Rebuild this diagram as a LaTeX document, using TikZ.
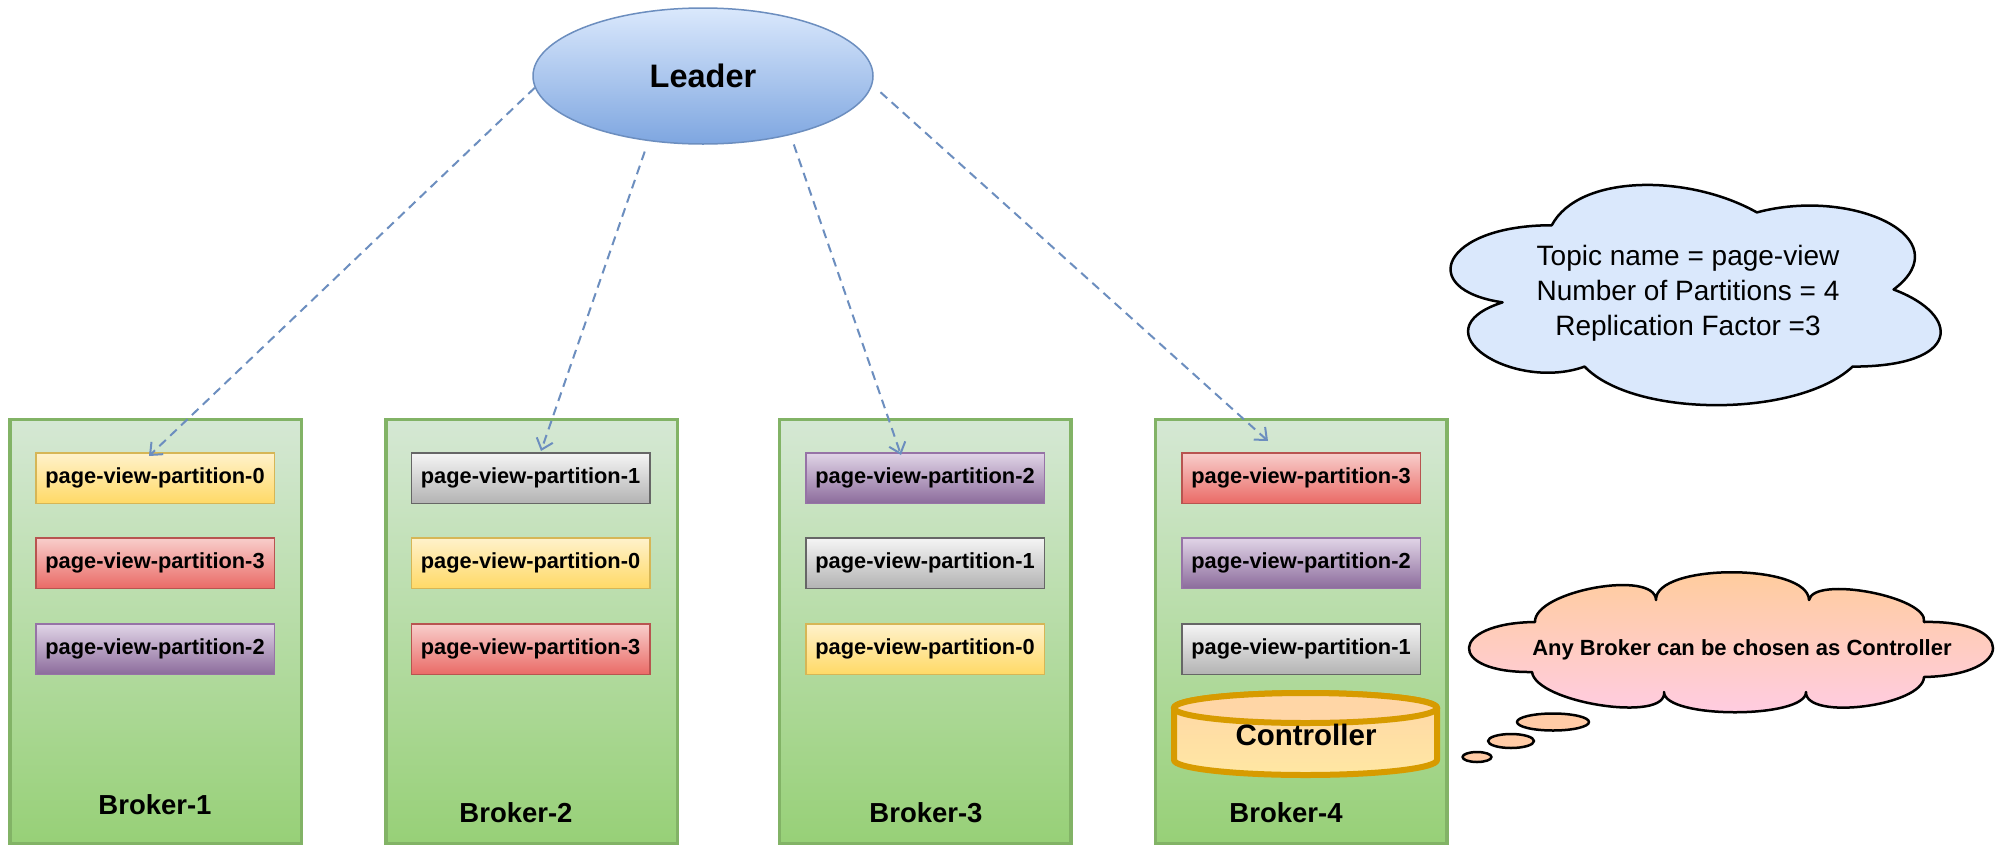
\documentclass[tikz,border=0pt]{standalone}
\usepackage{fontspec}
\setmainfont{Liberation Sans}
\usetikzlibrary{arrows.meta,shapes.geometric}
\definecolor{brokerTop}{HTML}{D5E8D4}
\definecolor{brokerBot}{HTML}{97D077}
\definecolor{brokerLine}{HTML}{82B366}
\definecolor{yelTop}{HTML}{FFF2CC}
\definecolor{yelBot}{HTML}{FFD966}
\definecolor{yelLine}{HTML}{D6B656}
\definecolor{redTop}{HTML}{F8CECC}
\definecolor{redBot}{HTML}{EA6B66}
\definecolor{redLine}{HTML}{B85450}
\definecolor{purTop}{HTML}{E1D5E7}
\definecolor{purBot}{HTML}{8C6C9C}
\definecolor{purLine}{HTML}{9673A6}
\definecolor{gryTop}{HTML}{F5F5F5}
\definecolor{gryBot}{HTML}{B3B3B3}
\definecolor{gryLine}{HTML}{666666}
\definecolor{leadTop}{HTML}{DAE8FC}
\definecolor{leadBot}{HTML}{7EA6E0}
\definecolor{leadLine}{HTML}{6C8EBF}
\definecolor{cloudBlue}{HTML}{DAE8FC}
\definecolor{pinkTop}{HTML}{FFCC99}
\definecolor{pinkBot}{HTML}{FFCCE6}
\definecolor{bubbleFill}{HTML}{FFCBA6}
\definecolor{ctrlLine}{HTML}{D79B00}
\definecolor{ctrlTop}{HTML}{FFD6A6}
\definecolor{ctrlBot}{HTML}{FFE7A3}
\tikzset{
  brokerbox/.style={draw=brokerLine, line width=3.5pt, top color=brokerTop, bottom color=brokerBot,
    minimum width=291.5pt, minimum height=424.5pt, inner sep=0pt, anchor=north},
  partbox/.style={line width=1.5pt, minimum width=238.5pt, minimum height=50.5pt, inner sep=0pt,
    font=\fontsize{21.8}{26}\selectfont\bfseries},
  partyellow/.style={partbox, draw=yelLine, top color=yelTop, bottom color=yelBot},
  partred/.style={partbox, draw=redLine, top color=redTop, bottom color=redBot},
  partpurple/.style={partbox, draw=purLine, top color=purTop, bottom color=purBot},
  partgray/.style={partbox, draw=gryLine, top color=gryTop, bottom color=gryBot},
  blabel/.style={inner sep=0pt, font=\fontsize{27.5}{32}\selectfont\bfseries},
  leadarrow/.style={draw=leadLine, line width=2pt, dash pattern=on 9pt off 6pt,
    -{Straight Barb[length=10pt,width=17pt]}},
  cloudline/.style={draw=black, line width=2.5pt, line join=round},
}
\begin{document}
\begin{tikzpicture}[x=1pt,y=-1pt]
\path[use as bounding box, clip] (0,0) rectangle (2000,844);
\fill[white] (0,0) rectangle (2000,844);

% Brokers
\node[brokerbox] (b1) at (155.5,417.75) {};
\node[brokerbox] (b2) at (531.5,417.75) {};
\node[brokerbox] (b3) at (925,417.75) {};
\node[brokerbox] (b4) at (1301,417.75) {};

\node[blabel] (b1l) at (155,805) {Broker-1};
\node[blabel] (b2l) at (516,813) {Broker-2};
\node[blabel] (b3l) at (926,813) {Broker-3};
\node[blabel] (b4l) at (1286,813) {Broker-4};

% Partitions
\node[partyellow] (p11) at (155,478) {page-view-partition-0};
\node[partred]    (p12) at (155,563) {page-view-partition-3};
\node[partpurple] (p13) at (155,649) {page-view-partition-2};

\node[partgray]   (p21) at (530.5,478) {page-view-partition-1};
\node[partyellow] (p22) at (530.5,563) {page-view-partition-0};
\node[partred]    (p23) at (530.5,649) {page-view-partition-3};

\node[partpurple] (p31) at (925,478) {page-view-partition-2};
\node[partgray]   (p32) at (925,563) {page-view-partition-1};
\node[partyellow] (p33) at (925,649) {page-view-partition-0};

\node[partred]    (p41) at (1301,478) {page-view-partition-3};
\node[partpurple] (p42) at (1301,563) {page-view-partition-2};
\node[partgray]   (p43) at (1301,649) {page-view-partition-1};

% Controller cylinder
\path[draw=ctrlLine, line width=6pt, top color=ctrlTop, bottom color=ctrlBot, line join=round]
  (1174,708) -- (1174,760) arc[start angle=180, end angle=0, x radius=131.5, y radius=15]
  -- (1437,708) arc[start angle=0, end angle=-180, x radius=131.5, y radius=15] -- cycle;
\draw[draw=ctrlLine, line width=6pt, fill=ctrlTop] (1305.5,708) ellipse[x radius=131.5, y radius=15];
\node[inner sep=0pt, font=\fontsize{29.5}{34}\selectfont\bfseries] (ctrl) at (1306,735) {Controller};

% Leader
\node[ellipse, draw=leadLine, line width=1.5pt, top color=leadTop, bottom color=leadBot,
  minimum width=340pt, minimum height=136pt, inner sep=0pt,
  font=\fontsize{32.5}{38}\selectfont\bfseries] (leader) at (703,76) {Leader};

% Arrows
\coordinate (t1) at (149,456);
\coordinate (t2) at (541,451);
\coordinate (t3) at (901,455);
\coordinate (t4) at (1268,441);
\draw[leadarrow] (leader.184) -- (t1);
\draw[leadarrow, shorten <=11pt] (leader.230.5) -- (t2);
\draw[leadarrow, shorten <=10pt] (leader.326.9) -- (t3);
\draw[leadarrow, shorten <=11pt] (leader.357) -- (t4);

% Topic cloud
\path[cloudline, fill=cloudBlue]
  (1551.75,225.25) .. controls (1442.35,225.25) and (1415,289.5) .. (1502.52,302.35)
  .. controls (1415,330.62) and (1513.46,392.3) .. (1584.57,366.6)
  .. controls (1633.8,418) and (1797.9,418) .. (1852.6,366.6)
  .. controls (1962,366.6) and (1962,315.2) .. (1893.625,289.5)
  .. controls (1962,238.1) and (1852.6,186.7) .. (1756.875,212.4)
  .. controls (1688.5,173.85) and (1579.1,173.85) .. (1551.75,225.25) -- cycle;
\node[align=center, inner sep=0pt, font=\fontsize{28}{35}\selectfont] (topic) at (1688,293)
  {Topic name = page-view\\Number of Partitions = 4\\Replication Factor =3};

% Controller thought cloud
\path[cloudline, top color=pinkTop, bottom color=pinkBot]
  (1535,622) .. controls (1534,591) and (1655,569) .. (1656,600)
  .. controls (1655,563) and (1808,563) .. (1809,600)
  .. controls (1814,575) and (1929,597) .. (1924,622)
  .. controls (2016,620) and (2016,675) .. (1924,677)
  .. controls (1923,706) and (1805,721) .. (1806,692)
  .. controls (1806,719) and (1664,719) .. (1664,692)
  .. controls (1668,723) and (1536,703) .. (1532,672)
  .. controls (1446,673) and (1449,623) .. (1535,622) -- cycle;
\node[inner sep=0pt, font=\fontsize{22}{26}\selectfont\bfseries] (note) at (1742,650)
  {Any Broker can be chosen as Controller};
\draw[cloudline, fill=bubbleFill] (1553,722) ellipse[x radius=36, y radius=8.5];
\draw[cloudline, fill=bubbleFill] (1511,741) ellipse[x radius=23, y radius=7];
\draw[cloudline, fill=bubbleFill] (1477,757) ellipse[x radius=14.5, y radius=5];
\end{tikzpicture}
\end{document}
